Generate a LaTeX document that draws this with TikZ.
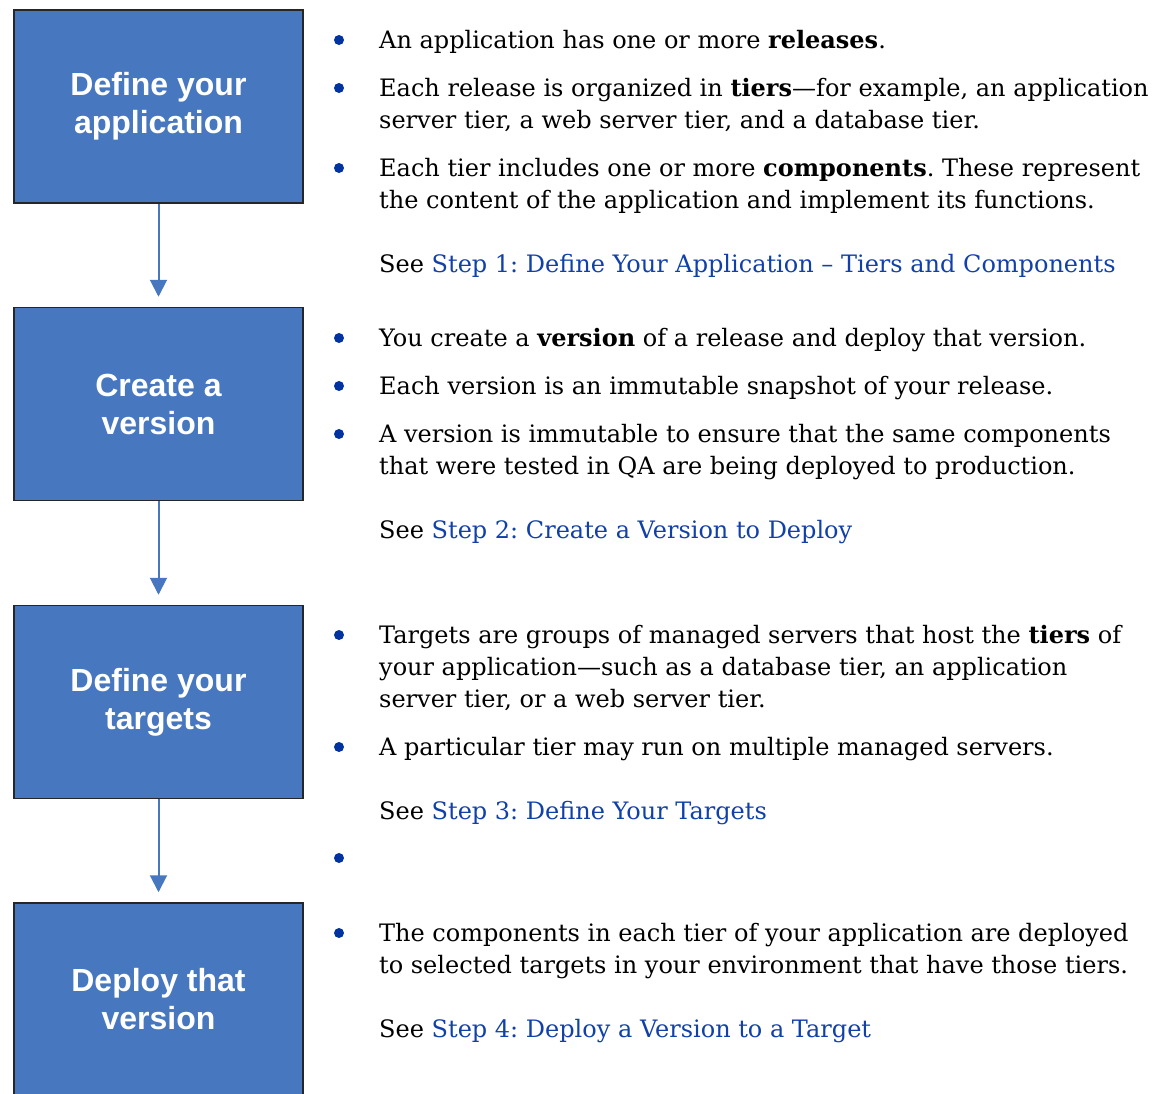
\documentclass[tikz,border=0pt]{standalone}
\usepackage{fontspec}
\setmainfont{DejaVu Serif}
\setsansfont{Liberation Sans}
\usetikzlibrary{positioning,arrows.meta}
\frenchspacing

\definecolor{boxblue}{HTML}{4677BF}
\definecolor{dotblue}{HTML}{0033A0}
\definecolor{linkblue}{HTML}{1040A8}
\newcommand{\steplink}[1]{\textcolor{linkblue}{#1}}

\tikzset{
    stepbox/.style={draw=black!85, line width=1.5pt, fill=boxblue, minimum width=289pt, minimum height=193pt,
        text=white, align=center, font=\sffamily\bfseries\fontsize{32}{38}\selectfont},
    flow/.style={draw=boxblue, line width=2pt, shorten >=10pt, -{Triangle[length=17pt,width=17pt]}},
    bulletdot/.style={circle, fill=dotblue, inner sep=0pt, minimum size=10pt},
    % base of a wrapped text is its last line
    para/.style={anchor=base west, align=left, inner sep=0pt, font=\fontsize{24}{32}\selectfont}
}

\begin{document}
\begin{tikzpicture}[x=1pt,y=-1pt]
    \useasboundingbox (0,0) rectangle (1157,1093);
    \clip (0,0) rectangle (1157,1093);

    % the four steps
    \node[stepbox] (app) at (158.5,106.5) {Define your\\application};
    \node[stepbox] (ver) at (158.5,404) {Create a\\version};
    \node[stepbox] (tgt) at (158.5,702) {Define your\\targets};
    \node[stepbox] (dep) at (158.5,999.5) {Deploy that\\version};

    \draw[flow] (app.south) -- (ver.north);
    \draw[flow] (ver.south) -- (tgt.north);
    \draw[flow] (tgt.south) -- (dep.north);

    % step 1
    \node[bulletdot] (d1) at (339,40) {};
    \node[para] (t1) at (379,48) {An application has one or more \textbf{releases}.};
    \node[bulletdot] (d2) at (339,88) {};
    \node[para] (t2) at (379,128) {Each release is organized in \textbf{tiers}---for example, an application\\server tier, a web server tier, and a database tier.};
    \node[bulletdot] (d3) at (339,168) {};
    \node[para] (t3) at (379,208) {Each tier includes one or more \textbf{components}. These represent\\the content of the application and implement its functions.};
    \node[para] (s1) at (379,272) {See \steplink{Step 1: Define Your Application -- Tiers and Components}};

    % step 2
    \node[bulletdot] (d4) at (339,338) {};
    \node[para] (t4) at (379,346) {You create a \textbf{version} of a release and deploy that version.};
    \node[bulletdot] (d5) at (339,386) {};
    \node[para] (t5) at (379,394) {Each version is an immutable snapshot of your release.};
    \node[bulletdot] (d6) at (339,434) {};
    \node[para] (t6) at (379,474) {A version is immutable to ensure that the same components\\that were tested in QA are being deployed to production.};
    \node[para] (s2) at (379,538) {See \steplink{Step 2: Create a Version to Deploy}};

    % step 3
    \node[bulletdot] (d7) at (339,635) {};
    \node[para] (t7) at (379,707) {Targets are groups of managed servers that host the \textbf{tiers} of\\your application---such as a database tier, an application\\server tier, or a web server tier.};
    \node[bulletdot] (d8) at (339,747) {};
    \node[para] (t8) at (379,755) {A particular tier may run on multiple managed servers.};
    \node[para] (s3) at (379,819) {See \steplink{Step 3: Define Your Targets}};
    \node[bulletdot] (d9) at (339,858) {};

    % step 4
    \node[bulletdot] (d10) at (339,933) {};
    \node[para] (t10) at (379,973) {The components in each tier of your application are deployed\\to selected targets in your environment that have those tiers.};
    \node[para] (s4) at (379,1037) {See \steplink{Step 4: Deploy a Version to a Target}};
\end{tikzpicture}
\end{document}
